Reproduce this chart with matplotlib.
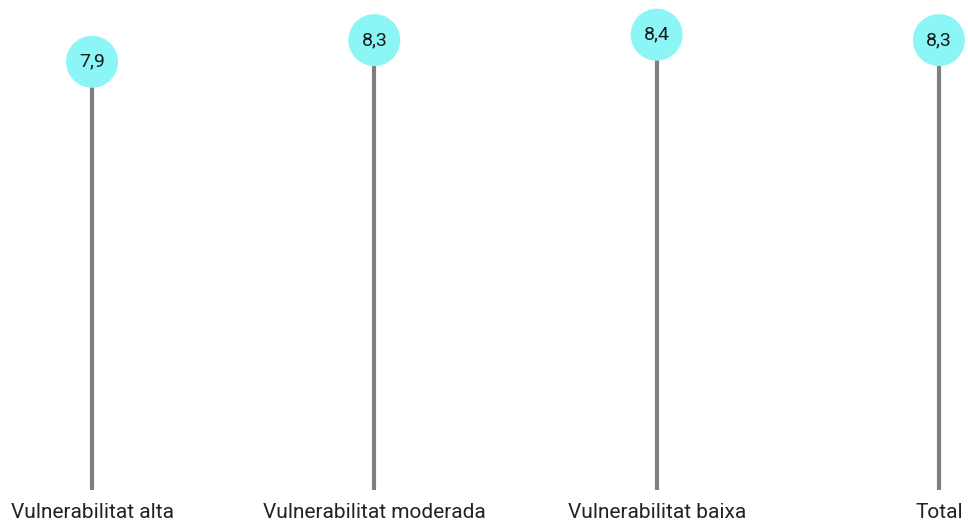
import matplotlib.pyplot as plt
import numpy as np

plt.rcParams['font.family'] = ['Roboto', 'DejaVu Sans']

categories = ['Vulnerabilitat alta', 'Vulnerabilitat moderada', 'Vulnerabilitat baixa', 'Total']
values = [7.9, 8.3, 8.4, 8.3]

fig = plt.figure(figsize=(9.68, 5.27), dpi=100)
ax = fig.add_axes([0, 37 / 527, 1, 490 / 527])

x = np.arange(len(categories))
ax.vlines(x, 0, values, color='#7f7f7f', linewidth=3.0, zorder=1)
ax.scatter(x, values, s=1400, color='#8cf5f5', edgecolors='none', zorder=2)

for xi, v in zip(x, values):
	ax.text(xi, v, f'{v:.1f}'.replace('.', ','), ha='center', va='center',
			fontsize=14, color='#1a1a1a', zorder=3)

ax.set_xlim(-0.326, 3.103)
ax.set_ylim(0, 9.04)
ax.set_xticks(x)
ax.set_xticklabels(categories, fontsize=15, color='#222222')
ax.tick_params(axis='x', length=0, pad=9)
ax.set_yticks([])
for s in ax.spines.values():
	s.set_visible(False)

fig.savefig('out.png', dpi=100)
